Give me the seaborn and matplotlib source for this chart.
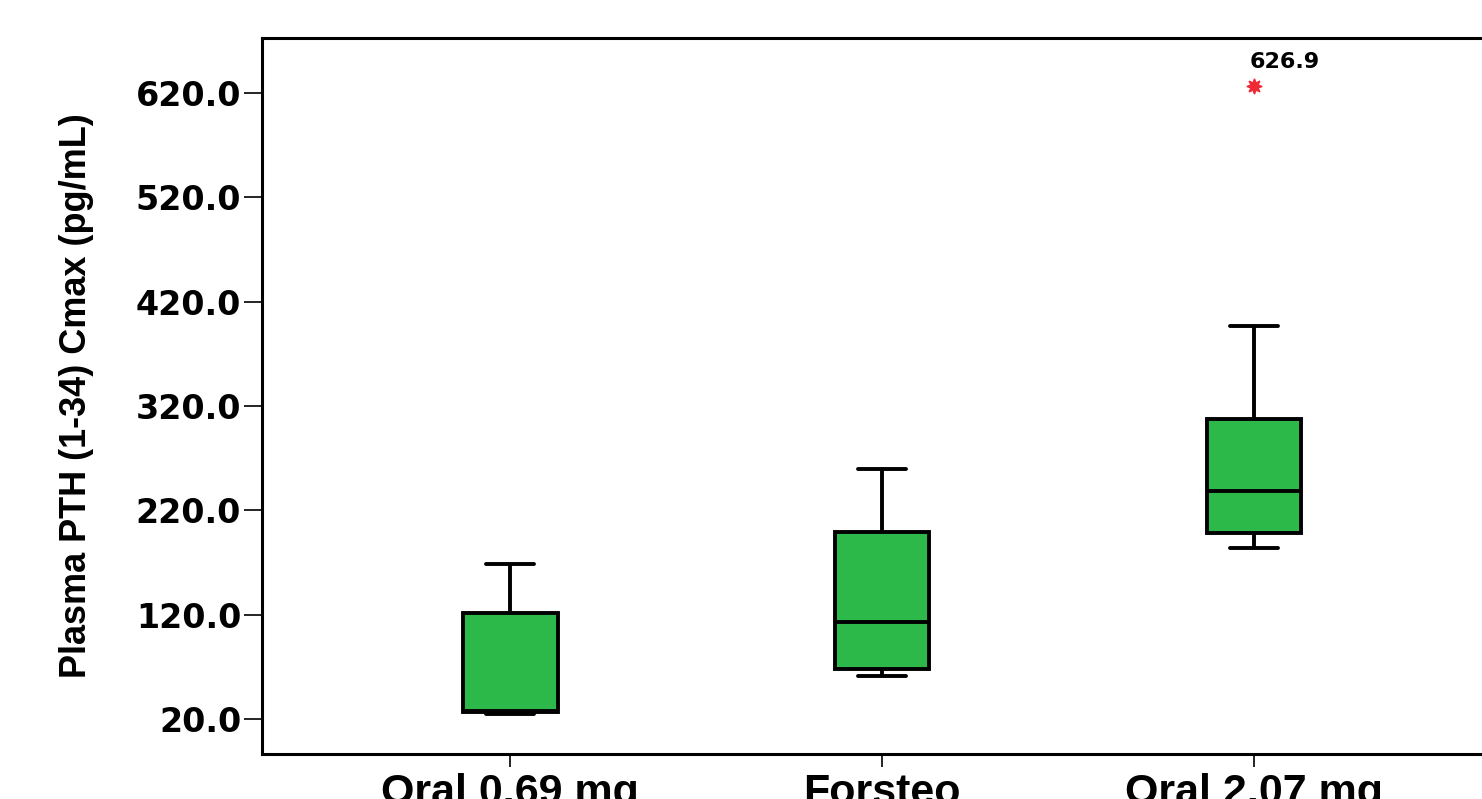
import numpy as np
import pandas as pd
import matplotlib
matplotlib.use("Agg")
import matplotlib.pyplot as plt
import seaborn as sns

groups = ["Oral 0.69 mg", "Forsteo", "Oral 2.07 mg"]
oral_069 = [25.0, 26.0, 27.0, 27.5, 28.0, 60.0, 121.6, 150.0, 168.6]
forsteo = [61.2, 65.0, 67.9, 90.0, 113.0, 150.0, 199.2, 230.0, 259.6]
oral_207 = [184.0, 190.0, 198.3, 220.0, 238.5, 280.0, 307.5, 396.7, 626.9]
yticks = [20, 120, 220, 320, 420, 520, 620]
outlier_label = "626.9"

df = pd.DataFrame({
    "group": np.repeat(groups, [len(oral_069), len(forsteo), len(oral_207)]),
    "value": oral_069 + forsteo + oral_207,
})

sns.set_style("ticks")
plt.rcParams["font.family"] = ["Liberation Sans", "DejaVu Sans"]

fig = plt.figure(figsize=(14.82, 7.99), dpi=100)
ax = fig.add_axes([0.1768, 0.0563, 0.8367, 0.896])

sns.boxplot(data=df, x="group", y="value", order=groups, ax=ax,
            color="#2db84a", saturation=1, width=0.255, linewidth=2.8,
            linecolor="black",
            flierprops=dict(marker=(8, 1, 0), markerfacecolor="#ee2a35",
                            markeredgecolor="#ee2a35", markersize=11))

ax.annotate(outlier_label, xy=(2, 626.9), xytext=(-3, 10), textcoords="offset points",
            ha="left", va="bottom", fontsize=16, fontweight="bold",
            family="DejaVu Sans", color="black")

ax.set_xlim(-0.667, 2.667)
ax.set_ylim(-13.5, 672.7)
ax.set_yticks(yticks)
ax.set_yticklabels([f"{v:.1f}" for v in yticks], fontsize=24, fontweight="bold",
                   family="DejaVu Sans")
ax.set_xticks(range(len(groups)))
ax.set_xticklabels(groups, fontsize=31, fontweight="bold")
ax.set_xlabel("")
ax.set_ylabel("Plasma PTH (1-34) Cmax (pg/mL)", fontsize=26, fontweight="bold",
              labelpad=30, color="black")

for s in ax.spines.values():
    s.set_linewidth(2.2)
    s.set_color("black")
ax.tick_params(axis="y", length=13, width=1.2, pad=2, colors="black")
ax.tick_params(axis="x", length=9, width=1.2, pad=5, colors="black")

fig.savefig("out.png", dpi=100)
